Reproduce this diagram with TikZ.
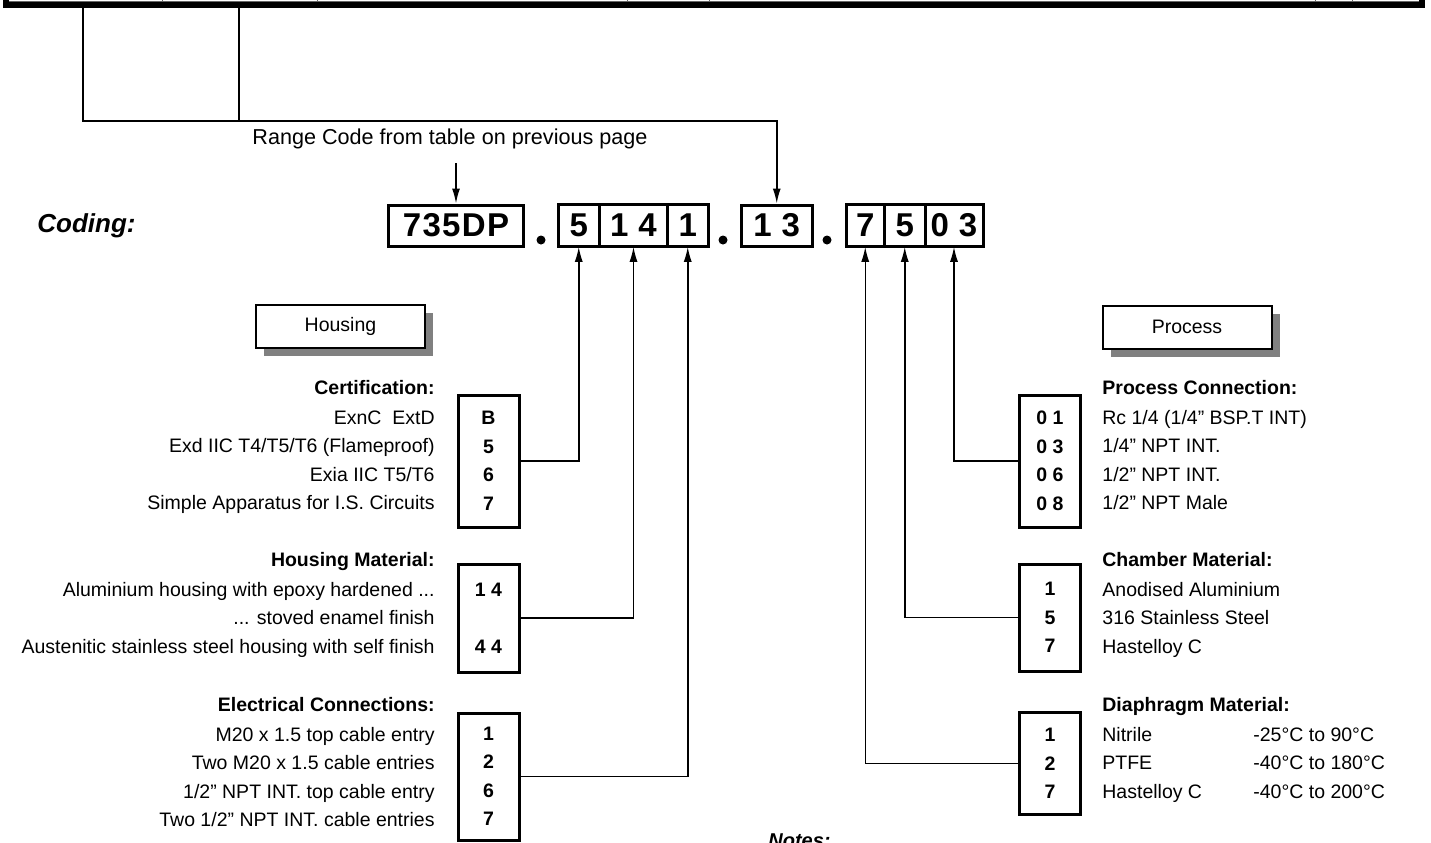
\documentclass[tikz,border=0pt]{standalone}
\usepackage{fontspec}
\setmainfont{Liberation Sans}
\newfontfamily\codefont[LetterSpace=4]{Liberation Sans}
\usetikzlibrary{arrows.meta,positioning,shadows}

\newcommand{\hmdots}{...}
\newcommand{\gap}{\hspace{0.3em}}

\tikzset{
  cell/.style={draw, line width=0.75pt, minimum height=20.5pt, inner sep=0pt, anchor=west,
    font=\codefont\fontsize{16.5}{20}\selectfont\bfseries},
  frame/.style={line width=1.5pt},
  optbox/.style={draw, line width=1.5pt, minimum width=30.5pt, inner sep=0pt, align=center,
    font=\fontsize{9.75}{14.25}\selectfont\bfseries},
  titlebox/.style={draw, line width=1pt, fill=white, minimum width=84.5pt, minimum height=21.5pt,
    font=\fontsize{9.75}{12}\selectfont,
    drop shadow={shadow xshift=4pt, shadow yshift=-4pt, fill=black!50, opacity=1}},
  head/.style={inner sep=0pt, font=\fontsize{9.75}{12}\selectfont\bfseries},
  body/.style={inner sep=0pt, font=\fontsize{9.75}{12}\selectfont},
  dot/.style={circle, fill, inner sep=0pt, minimum size=4.5pt},
  link/.style={line width=0.75pt},
  pointer/.style={link, -{Latex[length=7.5pt, width=4pt]}},
}

\begin{document}
\begin{tikzpicture}[x=0.5pt, y=-0.5pt]
  \useasboundingbox (0,0) rectangle (1431,842);

  % Table row above (cut off)
  \draw[black!60, line width=0.5pt] (6,1) -- (1422,1);
  \foreach \x in {162,317,627,709,1315,1352}
    \draw[black!60, line width=0.5pt] (\x,-10) -- (\x,5);
  \draw[line width=3pt] (6,-10) -- (6,5) -- (1422,5) -- (1422,-10);
  \coordinate (tab1) at (83,8);
  \coordinate (tab2) at (239,8);
  \coordinate (bend) at (239,121);

  % Code row
  \node[inner sep=0pt, anchor=west, font=\fontsize{13}{15}\selectfont\bfseries\itshape] (coding) at (37,226) {Coding:};
  \node[cell, frame, minimum width=67.5pt] (rc) at (387,225.5) {735DP};
  \node[dot] (dot1) at (541,240) {};
  \node[cell, minimum width=20pt] (c5) at (558,225.5) {5};
  \node[cell, minimum width=33.25pt, right=0pt of c5] (c14) {1\gap 4};
  \node[cell, minimum width=19.5pt, right=0pt of c14] (c1) {1};
  \draw[frame] (c5.north west) rectangle (c1.south east);
  \node[dot] (dot2) at (723,240) {};
  \node[cell, frame, minimum width=35.25pt] (c13) at (740,225.5) {1\gap 3};
  \node[dot] (dot3) at (827,240) {};
  \node[cell, minimum width=18.5pt] (c7) at (846,225.5) {7};
  \node[cell, minimum width=19.5pt, right=0pt of c7] (c5b) {5};
  \node[cell, minimum width=28.25pt, right=0pt of c5b] (c03) {0\gap 3};
  \draw[frame] (c7.north west) rectangle (c03.south east);

  % Range code and table links
  \node[inner sep=0pt, font=\fontsize{10.8}{12}\selectfont] (range) at (450,139) {Range Code from table on previous page};
  \draw[pointer] ([yshift=-7pt]range.south -| rc.north) -- (rc.north);
  \draw[pointer] (tab1) |- (bend) -| (c13.north);
  \draw[link] (tab2) -- (bend);

  % Housing
  \node[titlebox] (housing) at (340.5,326.5) {Housing};
  \node[head, anchor=base east] (cert-h) at (435,394) {Certification:};
  \foreach \t [count=\i from 0] in {ExnC~~ExtD, Exd IIC T4/T5/T6 (Flameproof), Exia IIC T5/T6, Simple Apparatus for I.S. Circuits}
    \node[body, anchor=base east] (cert-\i) at (435,424+28.5*\i) {\t};
  \node[optbox, minimum height=66pt] (cert) at (488.5,461) {B\\5\\6\\7};

  \node[head, anchor=base east] (hm-h) at (435,566) {Housing Material:};
  \foreach \t [count=\i from 0] in {Aluminium housing with epoxy hardened \hmdots, \hmdots{} stoved enamel finish, Austenitic stainless steel housing with self finish}
    \node[body, anchor=base east] (hm-\i) at (435,596+28.5*\i) {\t};
  \node[optbox, minimum height=54pt] (hm) at (488.5,618) {1 4\\[14.25pt]4 4};

  \node[head, anchor=base east] (ec-h) at (435,711) {Electrical Connections:};
  \foreach \t [count=\i from 0] in {M20 x 1.5 top cable entry, Two M20 x 1.5 cable entries, 1/2” NPT INT. top cable entry, Two 1/2” NPT INT. cable entries}
    \node[body, anchor=base east] (ec-\i) at (435,741+28.5*\i) {\t};
  \node[optbox, minimum height=63.5pt] (ec) at (488.5,776.5) {1\\2\\6\\7};

  % Process
  \node[titlebox] (process) at (1187,327) {Process};
  \node[head, anchor=base west] (pc-h) at (1102,394) {Process Connection:};
  \foreach \t [count=\i from 0] in {Rc 1/4 (1/4” BSP.T INT), 1/4” NPT INT., 1/2” NPT INT., 1/2” NPT Male}
    \node[body, anchor=base west] (pc-\i) at (1102,424+28.5*\i) {\t};
  \node[optbox, minimum height=66pt] (pc) at (1050,461) {0 1\\0 3\\0 6\\0 8};

  \node[head, anchor=base west] (cm-h) at (1102,566) {Chamber Material:};
  \foreach \t [count=\i from 0] in {Anodised Aluminium, 316 Stainless Steel, Hastelloy C}
    \node[body, anchor=base west] (cm-\i) at (1102,596+28.5*\i) {\t};
  \node[optbox, minimum height=53.5pt] (cm) at (1050,617.5) {1\\5\\7};

  \node[head, anchor=base west] (dm-h) at (1102,711) {Diaphragm Material:};
  \foreach \m/\t [count=\i from 0] in {Nitrile/-25°C to 90°C, PTFE/-40°C to 180°C, Hastelloy C/-40°C to 200°C}{
    \node[body, anchor=base west] (dm-\i) at (1102,741+28.5*\i) {\m};
    \node[body, anchor=base west] (dt-\i) at (1253,741+28.5*\i) {\t};
  }
  \node[optbox, minimum height=51pt] (dm) at (1050,763.5) {1\\2\\7};

  % Links from options to code
  \draw[pointer] (cert.east) -| (c5.south);
  \draw[pointer] (hm.east) -| (c14.south);
  \draw[pointer] (ec.east) -| (c1.south);
  \draw[pointer] (pc.west) -| (c03.south);
  \draw[pointer] (cm.west) -| (c5b.south);
  \draw[pointer] (dm.west) -| (c7.south);

  \node[inner sep=0pt, anchor=north west, font=\fontsize{10}{12}\selectfont\bfseries\itshape] (notes) at (768,833) {Notes:};
\end{tikzpicture}
\end{document}
